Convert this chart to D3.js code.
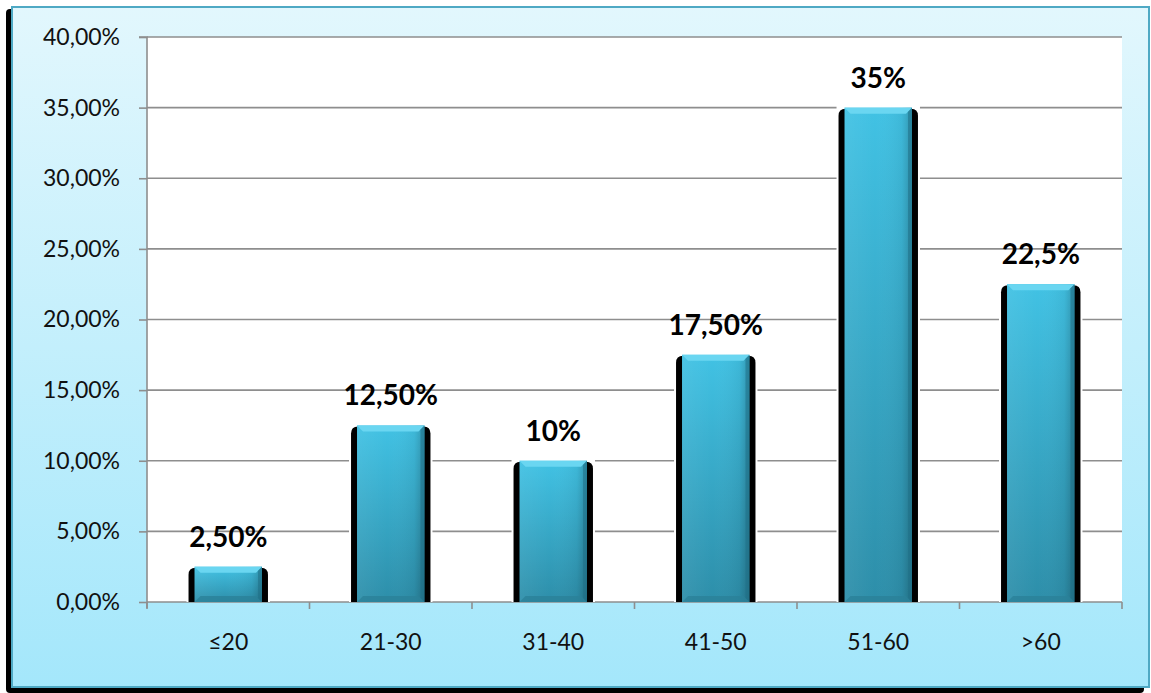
<!DOCTYPE html>
<html>
<head>
<meta charset="utf-8">
<script src="https://cdn.jsdelivr.net/npm/d3@7"></script>
<style>
  html, body { margin: 0; padding: 0; background: #ffffff; }
  svg { display: block; }
</style>
</head>
<body>
<svg id="chart" width="1151" height="693"></svg>
<script>
// Age groups and share of respondents (%)
const categories = ["≤20", "21-30", "31-40", "41-50", "51-60", ">60"];
const values = [2.5, 12.5, 10, 17.5, 35, 22.5];
const valueLabels = ["2,50%", "12,50%", "10%", "17,50%", "35%", "22,5%"];
const yTicks = [0, 5, 10, 15, 20, 25, 30, 35, 40];
const yTickLabels = ["0,00%", "5,00%", "10,00%", "15,00%", "20,00%", "25,00%", "30,00%", "35,00%", "40,00%"];

const W = 1151, H = 693;
const svg = d3.select("#chart");
const defs = svg.append("defs");

// Frame background gradient
const frameGrad = defs.append("linearGradient").attr("id", "frameGrad")
  .attr("x1", 0).attr("y1", 0).attr("x2", 0).attr("y2", 1);
frameGrad.append("stop").attr("offset", "0%").attr("stop-color", "#e2f7fd");
frameGrad.append("stop").attr("offset", "100%").attr("stop-color", "#a4e7fb");

// Bar body gradients
const barV = defs.append("linearGradient").attr("id", "barV")
  .attr("x1", 0).attr("y1", 0).attr("x2", 0).attr("y2", 1);
barV.append("stop").attr("offset", "0%").attr("stop-color", "#41c2e4");
barV.append("stop").attr("offset", "100%").attr("stop-color", "#2d8ea9");
const barH = defs.append("linearGradient").attr("id", "barH")
  .attr("x1", 0).attr("y1", 0).attr("x2", 1).attr("y2", 0);
barH.append("stop").attr("offset", "0%").attr("stop-color", "#ffffff").attr("stop-opacity", 0.06);
barH.append("stop").attr("offset", "45%").attr("stop-color", "#ffffff").attr("stop-opacity", 0);
barH.append("stop").attr("offset", "85%").attr("stop-color", "#000000").attr("stop-opacity", 0.05);
barH.append("stop").attr("offset", "100%").attr("stop-color", "#000000").attr("stop-opacity", 0.22);

// Outer frame with dark drop edge on left and bottom
svg.append("rect").attr("x", 6).attr("y", 9).attr("width", 1138).attr("height", 684)
  .attr("rx", 4).attr("fill", "#000000");
svg.append("rect").attr("x", 12).attr("y", 7).attr("width", 1137).attr("height", 680)
  .attr("fill", "url(#frameGrad)").attr("stroke", "#4fa9c4").attr("stroke-width", 2);

// Plot area
const margin = { left: 147, right: 1122, top: 37, bottom: 602 };
const x = d3.scaleBand().domain(categories).range([margin.left, margin.right]).padding(0);
const y = d3.scaleLinear().domain([0, 40]).range([margin.bottom, margin.top]);

svg.append("rect").attr("x", margin.left).attr("y", margin.top)
  .attr("width", margin.right - margin.left).attr("height", margin.bottom - margin.top)
  .attr("fill", "#ffffff");

// Horizontal gridlines
svg.append("g").selectAll("line").data(yTicks.filter(d => d > 0)).join("line")
  .attr("x1", margin.left).attr("x2", margin.right)
  .attr("y1", d => y(d)).attr("y2", d => y(d))
  .attr("stroke", "#8e8e8e").attr("stroke-width", 1.6);

// Y axis
const yAxis = d3.axisLeft(y).tickValues(yTicks)
  .tickFormat((d, i) => yTickLabels[i]).tickSize(8).tickPadding(19);
const gy = svg.append("g").attr("transform", `translate(${margin.left},0)`).call(yAxis);
gy.select(".domain").attr("stroke", "#8e8e8e").attr("stroke-width", 1.6)
  .attr("d", `M-8,${margin.top}H0V${margin.bottom + 6}`);
gy.selectAll(".tick line").attr("stroke", "#8e8e8e").attr("stroke-width", 1.6);
gy.selectAll(".tick text").attr("fill", "#111111")
  .style("font-family", "Lato, 'Open Sans', sans-serif").style("font-size", "23px");

// X axis
const xAxis = d3.axisBottom(x).tickSize(0).tickPadding(32);
const gx = svg.append("g").attr("transform", `translate(0,${margin.bottom})`).call(xAxis);
gx.select(".domain").attr("stroke", "#8e8e8e").attr("stroke-width", 1.6)
  .attr("d", `M${margin.left},0H${margin.right}`);
gx.selectAll(".tick text").attr("fill", "#111111")
  .style("font-family", "Lato, 'Open Sans', sans-serif").style("font-size", "23px");
// Category boundary ticks
const boundaries = categories.map(c => x(c)).concat([margin.right]);
gx.append("g").selectAll("line").data(boundaries).join("line")
  .attr("x1", d => d).attr("x2", d => d).attr("y1", 0).attr("y2", 7)
  .attr("stroke", "#8e8e8e").attr("stroke-width", 1.6);

// Bars
const barW = x.bandwidth() * 0.415;
const edge = 6;
const bars = svg.append("g").selectAll("g").data(values).join("g")
  .attr("transform", (d, i) => `translate(${x(categories[i]) + x.bandwidth() / 2},0)`);

// white halo that breaks the gridlines
bars.append("rect")
  .attr("x", -barW / 2 - edge - 2).attr("width", barW + 2 * edge + 4)
  .attr("y", d => y(d) - 3).attr("height", d => y(0) - y(d) + 3)
  .attr("fill", "#ffffff");
// dark side edges
bars.append("path")
  .attr("d", d => {
    const t = y(d) + 1, b = y(0), l = -barW / 2 - edge, r = barW / 2 + edge, rr = 7;
    return `M${l},${b}V${t + rr}Q${l},${t} ${l + rr},${t}H${r - rr}Q${r},${t} ${r},${t + rr}V${b}Z`;
  })
  .attr("fill", "#000000");
// bar body
bars.append("rect")
  .attr("x", -barW / 2).attr("width", barW)
  .attr("y", d => y(d)).attr("height", d => y(0) - y(d))
  .attr("fill", "url(#barV)");
bars.append("rect")
  .attr("x", -barW / 2).attr("width", barW)
  .attr("y", d => y(d)).attr("height", d => y(0) - y(d))
  .attr("fill", "url(#barH)");
// bevel: light top, darker bottom and right
bars.append("path")
  .attr("d", d => {
    const t = y(d), l = -barW / 2, r = barW / 2, b = 6;
    return `M${l},${t}H${r}L${r - b},${t + b}H${l + b}Z`;
  })
  .attr("fill", "#6ad6f1");
bars.append("path")
  .attr("d", d => {
    const t = y(d), bt = y(0), l = -barW / 2, r = barW / 2, b = Math.min(6, (bt - t) / 2);
    return `M${l},${bt}H${r}L${r - b},${bt - b}H${l + b}Z`;
  })
  .attr("fill", "#2a8199").attr("opacity", 0.8);
bars.append("path")
  .attr("d", d => {
    const t = y(d), bt = y(0), r = barW / 2, b = 4;
    return `M${r},${t}V${bt}L${r - b},${bt - b}V${t + b}Z`;
  })
  .attr("fill", "#1f6f86").attr("opacity", 0.55);

// Value labels
bars.append("text")
  .attr("x", 0).attr("y", d => y(d) - 20)
  .attr("text-anchor", "middle")
  .attr("fill", "#000000")
  .style("font-family", "Lato, 'Open Sans', sans-serif")
  .style("font-weight", "bold").style("font-size", "28px")
  .text((d, i) => valueLabels[i]);
</script>
</body>
</html>
